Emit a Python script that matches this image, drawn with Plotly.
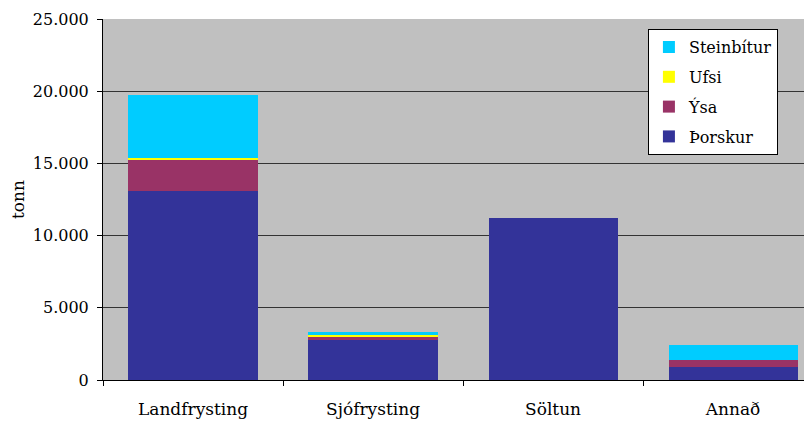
import plotly.graph_objects as go

categories = ["Landfrysting", "Sjófrysting", "Söltun", "Annað"]
thorskur = [13100, 2800, 11250, 900]
ysa = [2150, 190, 0, 500]
ufsi = [150, 140, 0, 0]
steinbitur = [4350, 160, 0, 1020]
yticks = [0, 5000, 10000, 15000, 20000, 25000]

series = [
    ("Þorskur", thorskur, "#333399"),
    ("Ýsa", ysa, "#993366"),
    ("Ufsi", ufsi, "#FFFF00"),
    ("Steinbítur", steinbitur, "#00CCFF"),
]

fig = go.Figure()
for i, (name, vals, col) in enumerate(series):
    fig.add_trace(go.Bar(x=categories, y=vals, name=name, marker_color=col,
                         marker_line_width=0, legendgroup=name,
                         legendrank=1000 - i))

font = "DejaVu Serif"
fig.update_layout(
    width=812, height=425,
    barmode="stack", bargap=0.283,
    separators=",.",
    paper_bgcolor="white", plot_bgcolor="#C0C0C0",
    margin=dict(l=95, r=0, t=11, b=53),
    font=dict(family=font, size=16, color="black"),
    showlegend=True,
    legend=dict(traceorder="grouped", x=0.760, y=0.972, xanchor="left", yanchor="top",
                bgcolor="white", bordercolor="black", borderwidth=1,
                font=dict(family=font, size=16), itemwidth=30, tracegroupgap=6,
                entrywidth=150),
    xaxis=dict(range=[-0.5, 3.483], tickson="boundaries", ticks="outside", ticklen=5,
               tickcolor="black", showline=True, linecolor="black", linewidth=1,
               showgrid=False, tickfont=dict(family=font, size=17), ticklabelstandoff=14),
    yaxis=dict(range=[0, 25000], tickvals=yticks, tickformat=",", ticks="outside",
               ticklen=5, tickcolor="black", showline=True, linecolor="black",
               gridcolor="#333333", gridwidth=1, zeroline=False, ticklabelstandoff=5,
               title=dict(text="tonn", font=dict(family=font, size=17), standoff=6),
               tickfont=dict(family=font, size=16)),
)

fig.write_html("out.html")
